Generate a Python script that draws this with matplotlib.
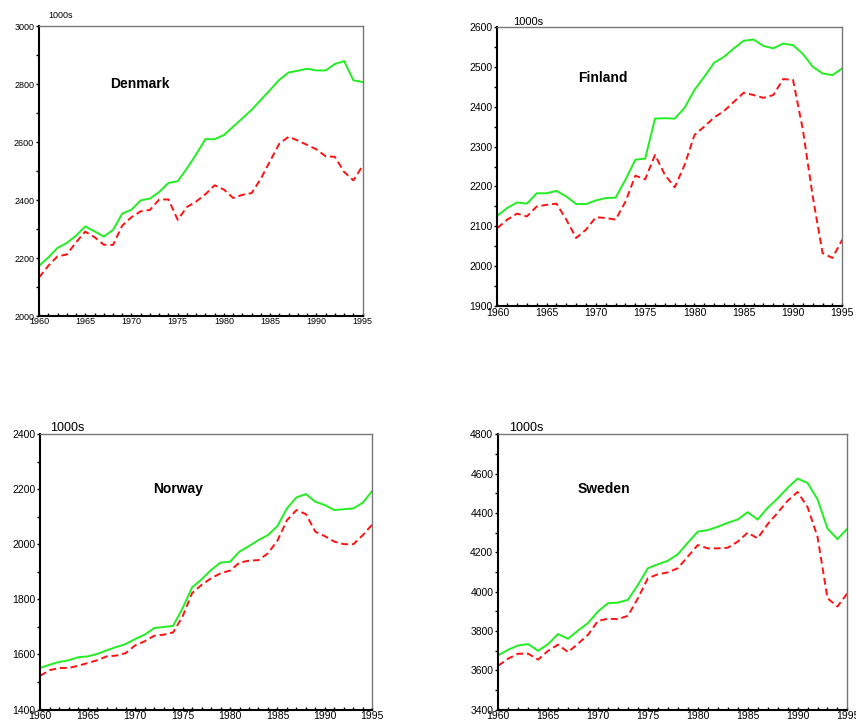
import matplotlib
matplotlib.use("Agg")
import matplotlib.pyplot as plt
from matplotlib.ticker import MultipleLocator
import numpy as np

years = list(range(1960, 1996))

denmark_green = [2173, 2202, 2235, 2252, 2277, 2309, 2292, 2274, 2297, 2353, 2367, 2399, 2405, 2428, 2459, 2465,
                 2509, 2558, 2610, 2610, 2624, 2653, 2682, 2711, 2746, 2780, 2815, 2840, 2846, 2853, 2847, 2847,
                 2869, 2879, 2813, 2807]
denmark_red = [2133, 2173, 2206, 2212, 2254, 2291, 2272, 2246, 2245, 2312, 2341, 2361, 2366, 2402, 2402, 2332,
               2376, 2395, 2420, 2451, 2436, 2407, 2418, 2424, 2474, 2535, 2595, 2618, 2605, 2590, 2575, 2551,
               2549, 2497, 2468, 2518]

finland_green = [2127, 2146, 2160, 2157, 2183, 2183, 2189, 2175, 2156, 2156, 2165, 2171, 2172, 2217, 2267, 2270,
                 2370, 2371, 2370, 2397, 2442, 2475, 2510, 2525, 2546, 2565, 2568, 2552, 2546, 2558, 2554, 2532,
                 2500, 2483, 2479, 2496]
finland_red = [2096, 2117, 2132, 2125, 2150, 2154, 2157, 2117, 2071, 2092, 2123, 2121, 2117, 2162, 2227, 2218,
               2279, 2229, 2198, 2254, 2329, 2350, 2373, 2389, 2412, 2435, 2429, 2422, 2429, 2469, 2467, 2342,
               2175, 2033, 2021, 2067]

norway_green = [1551, 1563, 1573, 1579, 1590, 1593, 1602, 1615, 1627, 1638, 1656, 1672, 1696, 1700, 1704, 1768,
                1844, 1873, 1907, 1934, 1937, 1974, 1994, 2016, 2034, 2067, 2131, 2171, 2183, 2155, 2143, 2125,
                2128, 2131, 2152, 2195]
norway_red = [1523, 1543, 1551, 1551, 1559, 1569, 1579, 1593, 1596, 1605, 1633, 1648, 1668, 1672, 1680, 1738,
              1823, 1853, 1877, 1895, 1905, 1934, 1941, 1943, 1968, 2014, 2088, 2125, 2110, 2046, 2030, 2010,
              2001, 2001, 2034, 2073]

sweden_green = [3676, 3704, 3726, 3733, 3699, 3733, 3784, 3760, 3802, 3840, 3899, 3941, 3944, 3958, 4034, 4119,
                4139, 4157, 4190, 4249, 4305, 4313, 4330, 4350, 4367, 4404, 4367, 4426, 4474, 4528, 4575, 4553,
                4470, 4321, 4267, 4321]
sweden_red = [3623, 3659, 3684, 3684, 3654, 3699, 3730, 3692, 3735, 3780, 3851, 3862, 3860, 3877, 3966, 4068,
              4088, 4098, 4119, 4178, 4237, 4220, 4220, 4223, 4254, 4300, 4271, 4343, 4401, 4462, 4507, 4431,
              4279, 3966, 3924, 3992]

x_ticks = [1960, 1965, 1970, 1975, 1980, 1985, 1990, 1995]
unit_label = "1000s"

panels = [
    dict(name="Denmark", g=denmark_green, r=denmark_red, ylim=(2000, 3000), major=200, minor=100,
         rect=[0.0456, 0.5635, 0.378, 0.4005], fs=6.5, ufs=6.5, title_xy=(0.22, 0.80), unit_xy=(0.03, 1.02)),
    dict(name="Finland", g=finland_green, r=finland_red, ylim=(1900, 2600), major=100, minor=50,
         rect=[0.581, 0.577, 0.403, 0.386], fs=7.5, ufs=8, title_xy=(0.235, 0.817), unit_xy=(0.045, 1.0)),
    dict(name="Norway", g=norway_green, r=norway_red, ylim=(1400, 2400), major=200, minor=100,
         rect=[0.047, 0.020, 0.388, 0.380], fs=7.5, ufs=9, title_xy=(0.34, 0.80), unit_xy=(0.03, 1.0)),
    dict(name="Sweden", g=sweden_green, r=sweden_red, ylim=(3400, 4800), major=200, minor=100,
         rect=[0.582, 0.020, 0.408, 0.380], fs=7.5, ufs=9, title_xy=(0.226, 0.80), unit_xy=(0.03, 1.0)),
]

plt.rcParams['font.family'] = ['Liberation Sans', 'DejaVu Sans']
fig = plt.figure(figsize=(8.56, 7.24), dpi=100)

for p in panels:
    ax = fig.add_axes(p["rect"])
    ax.plot(years, p["g"], color="#22ee22", lw=1.4, solid_joinstyle="miter")
    ax.plot(years, p["r"], color="#ff1111", lw=1.4, linestyle=(0, (3.5, 2)))
    ax.set_xlim(1960, 1995)
    ax.set_ylim(*p["ylim"])
    ax.set_xticks(x_ticks)
    ax.xaxis.set_minor_locator(MultipleLocator(1))
    ax.yaxis.set_major_locator(MultipleLocator(p["major"]))
    ax.yaxis.set_minor_locator(MultipleLocator(p["minor"]))
    ax.tick_params(axis="x", which="both", direction="in", length=2.5, width=1.0, labelsize=p["fs"], pad=1)
    ax.tick_params(axis="y", which="both", direction="out", length=2.5, width=1.0, labelsize=p["fs"], pad=1)
    for s in ("left", "bottom"):
        ax.spines[s].set_linewidth(1.5)
        ax.spines[s].set_color("black")
    for s in ("top", "right"):
        ax.spines[s].set_linewidth(1.0)
        ax.spines[s].set_color("#777777")
    ax.text(p["title_xy"][0], p["title_xy"][1], p["name"], transform=ax.transAxes,
            fontsize=10, fontweight="bold", ha="left", va="center")
    ax.text(p["unit_xy"][0], p["unit_xy"][1], unit_label, transform=ax.transAxes,
            fontsize=p["ufs"], ha="left", va="bottom")

fig.savefig("out.png", dpi=100)
